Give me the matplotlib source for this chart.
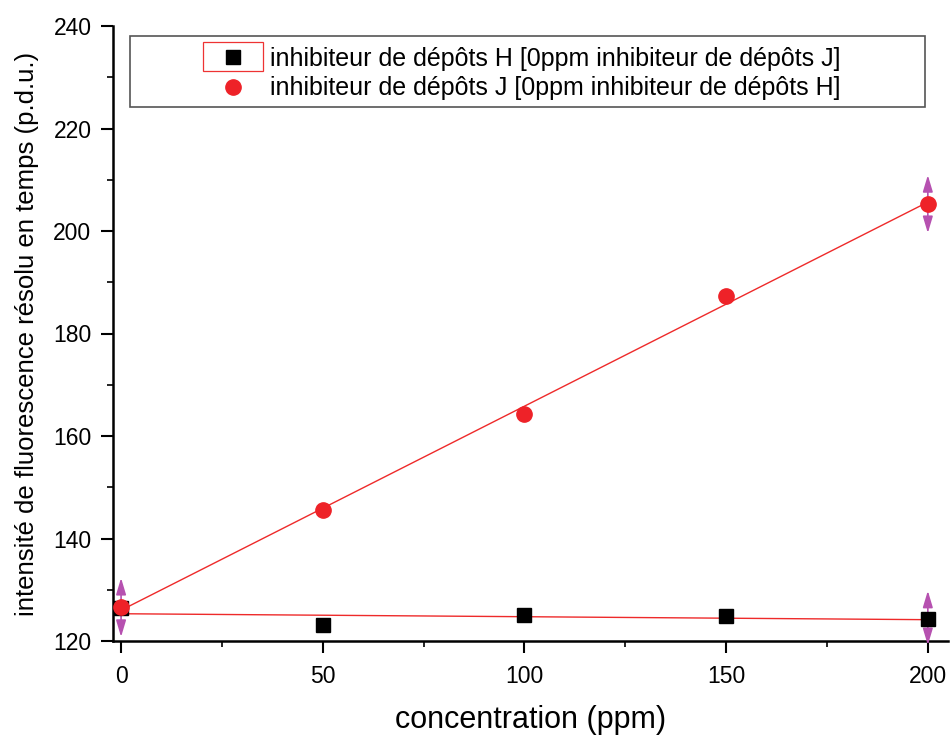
import numpy as np
import matplotlib
matplotlib.use('Agg')
import matplotlib.pyplot as plt
from matplotlib.ticker import MultipleLocator
from matplotlib.patches import Rectangle

plt.rcParams['font.family'] = ['Liberation Sans', 'DejaVu Sans']

# Données
conc = [0, 50, 100, 150, 200]
inhib_h = [126.5, 123.1, 125.1, 124.8, 124.2]
inhib_j = [126.6, 145.6, 164.3, 187.3, 205.3]

# Barres d'erreur (seulement aux extrémités)
err_x = [0, 200, 200]
err_y = [126.6, 205.3, 124.2]
err_lo = [5.8, 5.7, 5.0]
err_hi = [5.7, 5.6, 5.6]

W, H = 952, 738
fig = plt.figure(figsize=(W / 100, H / 100), dpi=100)
ax = fig.add_axes([113 / W, 1 - 641 / H, (948 - 113) / W, (641 - 26) / H])

# Droites de régression
x_fit = np.array([0, 200])
for serie in (inhib_h, inhib_j):
    a, b = np.polyfit(conc, serie, 1)
    ax.plot(x_fit, a * x_fit + b, color='#ee2a2a', linewidth=1, zorder=2)

# Barres d'erreur en flèches violettes
mag = '#b651b0'
for x, y, lo, hi in zip(err_x, err_y, err_lo, err_hi):
    ax.annotate('', xy=(x, y + hi), xytext=(x, y - lo),
                arrowprops=dict(arrowstyle='<|-|>,head_length=1.0,head_width=0.3',
                                color=mag, lw=1.2, shrinkA=0, shrinkB=0,
                                mutation_scale=10), zorder=3)

ax.plot(conc, inhib_h, 's', color='black', markersize=10, zorder=4,
        label='inhibiteur de dépôts H [0ppm inhibiteur de dépôts J]')
ax.plot(conc, inhib_j, 'o', color='#ee2228', markersize=11, zorder=5,
        label='inhibiteur de dépôts J [0ppm inhibiteur de dépôts H]')

ax.set_xlim(-2, 205)
ax.set_ylim(120, 240)
ax.xaxis.set_major_locator(MultipleLocator(50))
ax.xaxis.set_minor_locator(MultipleLocator(25))
ax.yaxis.set_major_locator(MultipleLocator(20))
ax.yaxis.set_minor_locator(MultipleLocator(10))
ax.spines['top'].set_visible(False)
ax.spines['right'].set_visible(False)
ax.spines['left'].set_linewidth(1.8)
ax.spines['bottom'].set_linewidth(1.8)
ax.tick_params(which='major', direction='out', length=8.5, width=1.5, labelsize=16.5, pad=7)
ax.tick_params(which='minor', direction='out', length=4, width=1.2)
ax.tick_params(axis='x', which='major', pad=9)

ax.set_xlabel('concentration (ppm)', fontsize=22, labelpad=12)
ax.set_ylabel('intensité de fluorescence résolu en temps (p.d.u.)', fontsize=18.5, labelpad=10)

# Légende (cadre dessiné à part)
leg = ax.legend(loc='upper left', bbox_to_anchor=(207.5 / W, 1 - 47 / H),
                bbox_transform=fig.transFigure, fontsize=18, frameon=False,
                handlelength=2, handletextpad=0.5, borderpad=0, labelspacing=0.22,
                borderaxespad=0)
fig.add_artist(Rectangle((130 / W, 1 - 107 / H), (925 - 130) / W, (107 - 36) / H,
                         transform=fig.transFigure, fill=False,
                         edgecolor='#555555', linewidth=1.2))
fig.add_artist(Rectangle((203 / W, 1 - 71 / H), 60 / W, 29 / H,
                         transform=fig.transFigure, fill=False,
                         edgecolor='#ee3333', linewidth=0.9))

fig.savefig('out.png', dpi=100)
